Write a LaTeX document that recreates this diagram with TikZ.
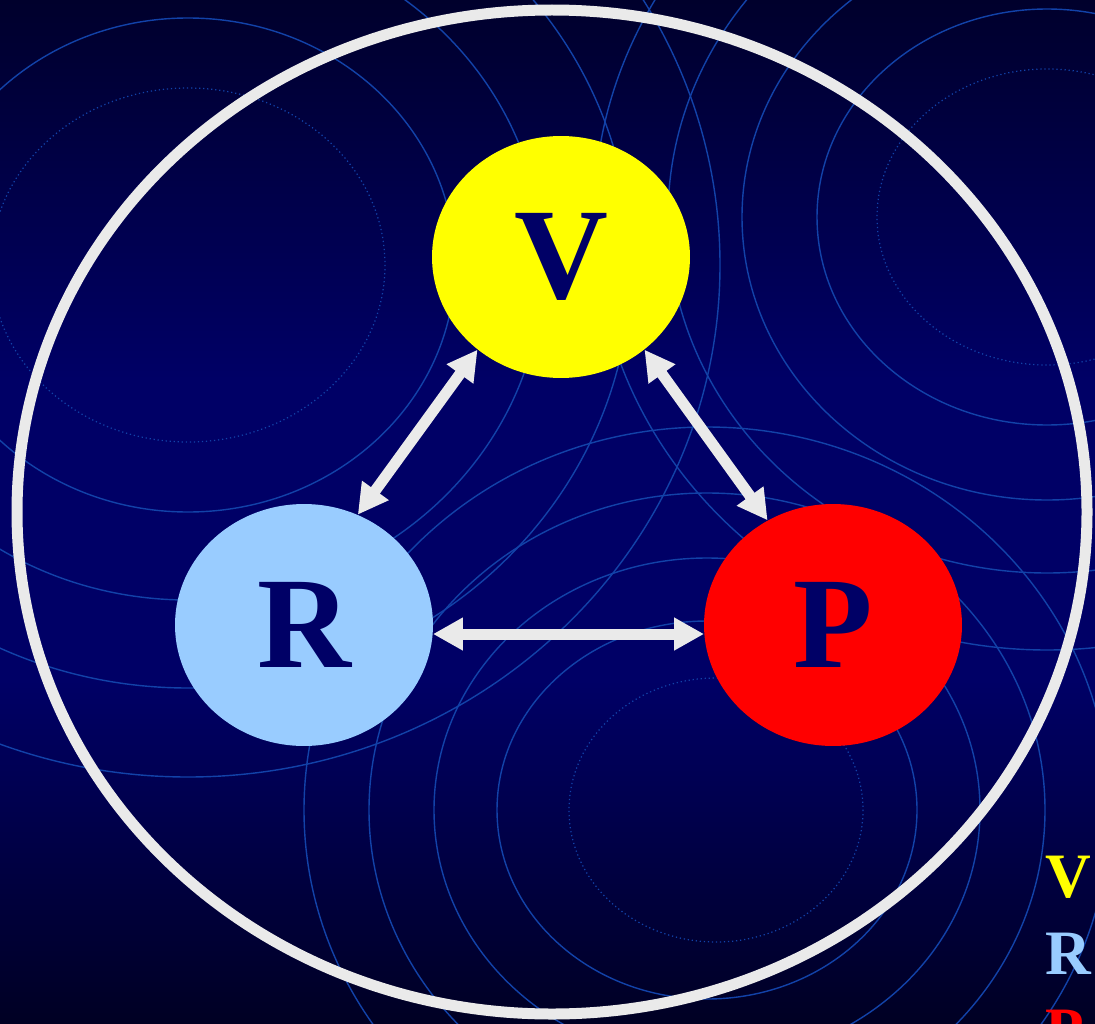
\documentclass[tikz,border=0pt]{standalone}
\usepackage{fontspec}
\setmainfont{Liberation Serif}
\usetikzlibrary{arrows.meta,shapes.geometric}
\definecolor{navy}{RGB}{0,0,102}
\definecolor{deepnavy}{RGB}{0,0,44}
\definecolor{wavblue}{RGB}{18,66,168}
\definecolor{ringwhite}{RGB}{234,234,234}
\definecolor{vyellow}{RGB}{255,255,0}
\definecolor{rblue}{RGB}{153,204,255}
\definecolor{pred}{RGB}{255,0,0}

\begin{document}
\begin{tikzpicture}[
                x=0.02cm, y=-0.02cm,
                wave/.style={draw=wavblue, line width=0.8pt},
                wavedot/.style={draw=wavblue, line width=0.7pt, dash pattern=on 0.7pt off 1.6pt},
                blob/.style={
                        ellipse, inner sep=0pt,
                        minimum width=5.16cm, minimum height=4.84cm,
                        text=navy, font=\fontsize{74}{74}\selectfont\bfseries
                    },
                key/.style={anchor=base west, inner sep=0pt, font=\fontsize{36}{36}\selectfont\bfseries},
                arr/.style={{Triangle[length=0.6cm,width=0.62cm]}-{Triangle[length=0.6cm,width=0.62cm]}, line width=0.22cm, ringwhite}
                ]
                \useasboundingbox (0,0) rectangle (1095,1024);
                \clip (0,0) rectangle (1095,1024);

                % backdrop
                \fill[navy] (0,0) rectangle (1095,1024);
                \shade[top color=deepnavy, bottom color=navy] (0,0) rectangle (1095,380);
                \shade[top color=navy, bottom color=deepnavy!80!black] (0,680) rectangle (1095,1024);

                % ripples, upper left
                \draw[wavedot] (188,265) ellipse [x radius=197, y radius=177];
                \draw[wave] (188,265) ellipse [x radius=267, y radius=247];
                \draw[wave] (188,265) ellipse [x radius=355, y radius=335];
                \draw[wave] (188,265) ellipse [x radius=443, y radius=423];
                \draw[wave] (188,265) ellipse [x radius=532, y radius=512];
                % ripples, upper right
                \draw[wavedot] (1047,217) ellipse [x radius=170, y radius=148];
                \draw[wave] (1047,217) ellipse [x radius=230, y radius=208];
                \draw[wave] (1047,217) ellipse [x radius=305, y radius=283];
                \draw[wave] (1047,217) ellipse [x radius=379, y radius=356];
                \draw[wave] (1047,217) ellipse [x radius=453, y radius=433];
                % ripples, lower middle
                \draw[wavedot] (716,810) ellipse [x radius=147, y radius=132];
                \draw[wave] (707,810) ellipse [x radius=210, y radius=189];
                \draw[wave] (707,810) ellipse [x radius=273, y radius=252];
                \draw[wave] (707,810) ellipse [x radius=338, y radius=317];
                \draw[wave] (707,810) ellipse [x radius=403, y radius=383];

                \draw[ringwhite, line width=0.22cm] (552,512) ellipse [x radius=535, y radius=502];

                \node[blob, fill=vyellow] (V) at (561,257) {V};
                \node[blob, fill=rblue] (R) at (304,625) {R};
                \node[blob, fill=pred] (P) at (833,625) {P};

                \draw[arr] (V.228) -- (R.64);
                \draw[arr] (V.312) -- (P.122);
                \draw[arr] (R.-4) -- (P.184);

                \node[key, text=vyellow] (keyV) at (1045,897) {V};
                \node[key, text=rblue] (keyR) at (1045,974) {R};
                \node[key, text=pred] (keyP) at (1045,1051) {P};
            \end{tikzpicture}
\end{document}
